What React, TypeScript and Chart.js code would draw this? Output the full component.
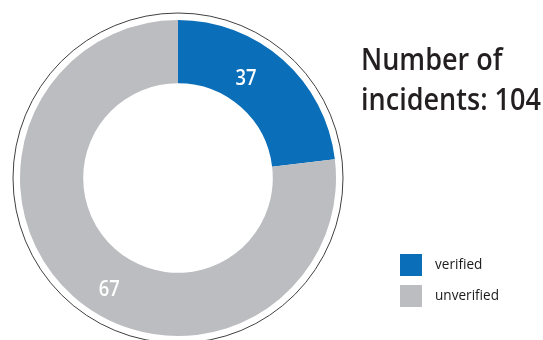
import React, { useEffect, useRef } from "react";
import { Chart, registerables } from "chart.js";

Chart.register(...registerables);

// Category names
const categories = ["verified", "unverified"];
// Printed incident counts
const incidentCounts = [37, 67];
// Arc shares as drawn in the picture (percent of the ring)
const arcShares = [23.1, 76.9];
// Title lines
const titleLines = ["Number of", "incidents: 104"];

const colors = ["#0b6eb8", "#bcbdc1"];
// label placement along each arc: [fraction of arc angle, fraction of outer radius]
const labelPlacement = [
  [0.415, 0.76],
  [0.464, 0.83],
];

const FONT = "'Open Sans', sans-serif";

function fitText(ctx: any, text: string, x: number, y: number, width: number) {
  const w = ctx.measureText(text).width;
  const s = width / w;
  ctx.save();
  ctx.translate(x, y);
  ctx.scale(s, 1);
  ctx.fillText(text, 0, 0);
  ctx.restore();
}

const decorPlugin = {
  id: "decor",
  afterDatasetsDraw(chart: any) {
    const ctx = chart.ctx;
    const meta = chart.getDatasetMeta(0);
    const arcs = meta.data;
    if (!arcs.length) return;
    const a0 = arcs[0];
    const cx = a0.x;
    const cy = a0.y;
    const outer = a0.outerRadius;
    ctx.save();
    // outer ring line
    ctx.beginPath();
    ctx.arc(cx, cy, outer + 7, 0, Math.PI * 2);
    ctx.strokeStyle = "#404040";
    ctx.lineWidth = 1;
    ctx.stroke();
    // labels
    ctx.fillStyle = "#ffffff";
    ctx.font = `600 22px ${FONT}`;
    ctx.textAlign = "left";
    ctx.textBaseline = "middle";
    arcs.forEach((arc: any, i: number) => {
      const [fa, fr] = labelPlacement[i];
      const ang = arc.startAngle + (arc.endAngle - arc.startAngle) * fa;
      const r = arc.outerRadius * fr;
      const px = cx + Math.cos(ang) * r;
      const py = cy + Math.sin(ang) * r;
      fitText(ctx, String(incidentCounts[i]), px - 10.5, py, 21);
    });
    // title
    ctx.fillStyle = "#231f20";
    ctx.textBaseline = "alphabetic";
    ctx.font = `600 30px ${FONT}`;
    const w1 = ctx.measureText(titleLines[1]).width;
    const s = 180 / w1;
    titleLines.forEach((t, i) => {
      ctx.save();
      ctx.translate(361, 70 + i * 40);
      ctx.scale(s, 1);
      ctx.fillText(t, 0, 0);
      ctx.restore();
    });
    // legend
    ctx.font = `500 15px ${FONT}`;
    const lw = ctx.measureText(categories[1]).width;
    const ls = 64 / lw;
    categories.forEach((c, i) => {
      const y = 254 + i * 31;
      ctx.fillStyle = colors[i];
      ctx.fillRect(400, y, 22, 22);
      ctx.fillStyle = "#1a1a1a";
      ctx.save();
      ctx.translate(435, y + 15);
      ctx.scale(ls, 1);
      ctx.fillText(c, 0, 0);
      ctx.restore();
    });
    ctx.restore();
  },
};

export default function App() {
  const ref = useRef<HTMLCanvasElement>(null);
  useEffect(() => {
    if (!ref.current) return;
    const chart = new Chart(ref.current, {
      type: "doughnut",
      data: {
        labels: categories,
        datasets: [
          {
            data: arcShares,
            backgroundColor: colors,
            borderWidth: 0,
          },
        ],
      },
      options: {
        responsive: false,
        animation: false,
        cutout: "60%",
        layout: { padding: { left: 20, right: 207, top: 20, bottom: 4 } },
        plugins: { legend: { display: false }, tooltip: { enabled: false } },
      },
      plugins: [decorPlugin],
    });
    return () => chart.destroy();
  }, []);
  return (
    <div style={{ position: "absolute", left: 0, top: 0, width: 543, height: 340, background: "#fff" }}>
      <canvas ref={ref} width={543} height={340} />
    </div>
  );
}
